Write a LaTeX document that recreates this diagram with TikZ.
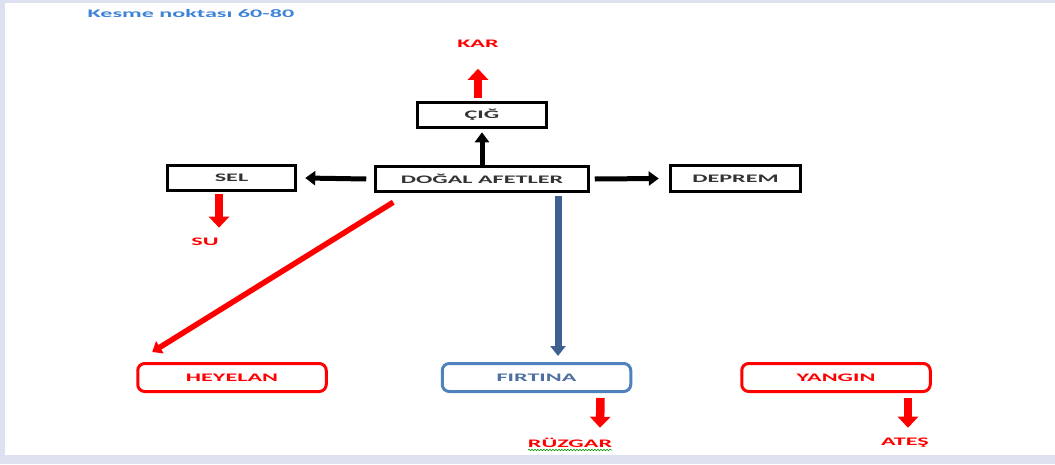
\documentclass[tikz,border=0pt]{standalone}
\usepackage{fontspec}
\usetikzlibrary{arrows.meta,decorations.pathmorphing}
\newfontfamily\labfont[FakeStretch=2.1]{Carlito}
\definecolor{bgl}{HTML}{DDE0EF}
\definecolor{ttl}{HTML}{3E84D6}
\definecolor{txg}{HTML}{333333}
\definecolor{fblue}{HTML}{4F81BD}
\definecolor{ftxt}{HTML}{4F6F9F}
\definecolor{darrow}{HTML}{3F6192}
\definecolor{rd}{HTML}{FF0000}
\tikzset{
  lab/.style={font=\labfont\bfseries\fontsize{11.5}{13}\selectfont},
  blackbox/.style={lab, draw=black, line width=3pt, text=txg, inner sep=0pt, minimum height=25.5pt},
  roundbox/.style={lab, line width=3pt, rounded corners=7pt, inner sep=0pt, minimum width=188.5pt, minimum height=28pt},
  redlab/.style={lab, text=rd},
  blkarrow/.style={line width=5pt, -{Triangle[length=10pt,width=14pt]}},
  redblock/.style={rd, line width=8.5pt, -{Triangle[length=11pt,width=20pt]}},
  reddiag/.style={rd, line width=5.5pt, -{Triangle[length=9pt,width=14pt]}},
  bluearrow/.style={darrow, line width=7pt, -{Triangle[length=10pt,width=15pt]}},
}
\begin{document}
\begin{tikzpicture}[x=1pt,y=-1pt]
\fill[bgl] (0,0) rectangle (1055,464);
\fill[white] (5,2.5) rectangle (1055,455);
\useasboundingbox (0,0) rectangle (1055,464);

\node[lab, text=ttl] (title) at (191,13.5) {Kesme noktası 60-80};

\node[blackbox, minimum width=128.5pt] (cig) at (482,115) {ÇIĞ};
\node[blackbox, minimum width=212.5pt] (dogal) at (482,179) {DOĞAL AFETLER};
\node[blackbox, minimum width=128.5pt] (sel) at (231.5,178) {SEL};
\node[blackbox, minimum width=130.5pt] (deprem) at (735.5,178.5) {DEPREM};

\node[roundbox, draw=rd, text=rd] (heyelan) at (232,377.5) {HEYELAN};
\node[roundbox, draw=fblue, text=ftxt] (firtina) at (536.5,377.5) {FIRTINA};
\node[roundbox, draw=rd, text=rd] (yangin) at (836,377.5) {YANGIN};

\node[redlab] (kar) at (478,43.5) {KAR};
\node[redlab] (su) at (205,242) {SU};
\node[redlab] (ruzgar) at (570,443) {RÜZGAR};
\node[redlab] (ates) at (905,443) {ATEŞ};

% black connectors
\draw[blkarrow] (dogal.north) -- ([yshift=-3pt]cig.south);
\draw[blkarrow] ([xshift=-8pt]dogal.west) -- ([xshift=8pt]sel.east);
\draw[blkarrow] ([xshift=5pt]dogal.east) -- ([xshift=-10pt]deprem.west);

% red block arrows
\draw[redblock] ([xshift=-4pt,yshift=3pt]cig.north) -- ([yshift=-18pt]kar.south);
\draw[redblock] ([xshift=-12.5pt,yshift=-2pt]sel.south) -- ([xshift=14pt,yshift=7pt]su.north);
\draw[redblock] ([xshift=64pt,yshift=-5pt]firtina.south) -- ([xshift=30pt,yshift=7pt]ruzgar.north);
\draw[redblock] ([xshift=72pt,yshift=-5pt]yangin.south) -- ([xshift=3pt,yshift=7pt]ates.north);

% diagonal and blue arrows
\draw[reddiag] ([xshift=19pt,yshift=-9pt]dogal.south west) -- ([xshift=16pt,yshift=10pt]heyelan.north west);
\draw[bluearrow] ([xshift=76pt,yshift=-3pt]dogal.south) -- ([xshift=21.5pt,yshift=6pt]firtina.north);

% spell-check underline
\draw[green!60!black, line width=0.6pt, decorate, decoration={snake, amplitude=0.8pt, segment length=3pt}]
  ([xshift=-42pt,yshift=-7pt]ruzgar.center) -- ([xshift=42pt,yshift=-7pt]ruzgar.center);
\end{tikzpicture}
\end{document}
